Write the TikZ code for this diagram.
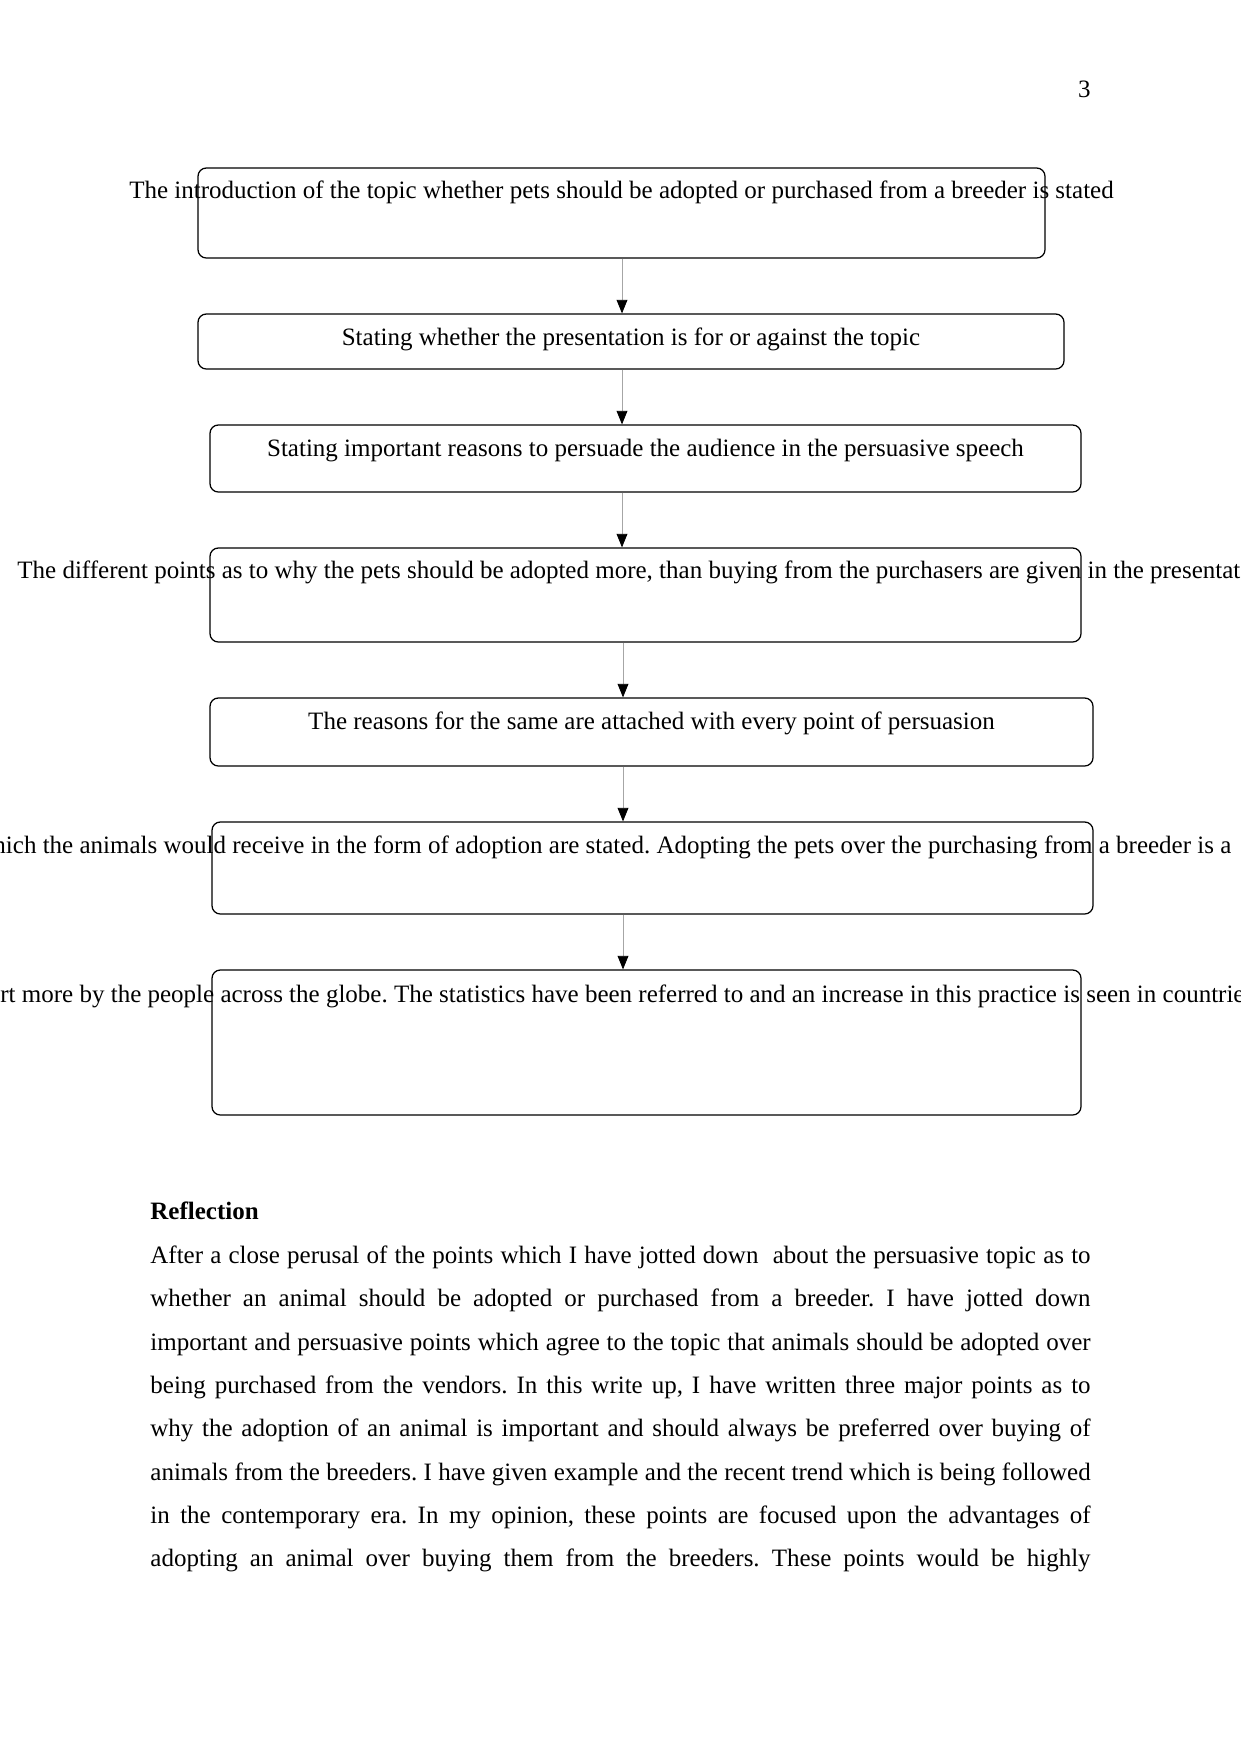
\documentclass[tikz,border=0pt]{standalone}
\usepackage{fontspec}
\setmainfont{Liberation Serif}
\frenchspacing
\usetikzlibrary{arrows.meta,fit}
\tikzset{
  flowbox/.style={draw=black, line width=0.6pt, rounded corners=4pt, inner sep=0pt},
  txt/.style={inner sep=0pt, font=\fontsize{12pt}{14pt}\selectfont\frenchspacing},
  flowarrow/.style={draw=black!35, line width=0.4pt, -{Triangle[length=6.5pt,width=5.2pt,color=black]}},
}
\begin{document}
\begin{tikzpicture}[x=0.48pt,y=-0.48pt]
\useasboundingbox (0,0) rectangle (1241,1754);
\fill[white] (0,0) rectangle (1241,1754);
\clip (0,0) rectangle (1241,1754);

% page number
\node[txt, anchor=base east] (pnum) at (1091,97) {3};

% boxes
\node[flowbox, fit={(198,168) (1045,258)}] (b1) {};
\node[flowbox, fit={(198,314) (1064,369)}] (b2) {};
\node[flowbox, fit={(210,425) (1081,492)}] (b3) {};
\node[flowbox, fit={(210,548) (1081,642)}] (b4) {};
\node[flowbox, fit={(210,698) (1093,766)}] (b5) {};
\node[flowbox, fit={(212,822) (1093,914)}] (b6) {};
\node[flowbox, fit={(212,970) (1081,1115)}] (b7) {};

% box texts
\node[txt, anchor=base] (t1) at (621.5,198) {The introduction of the topic whether pets should be adopted or purchased from a breeder is stated};
\node[txt, anchor=base] (t2) at (631,345) {Stating whether the presentation is for or against the topic};
\node[txt, anchor=base] (t3) at (645.5,456) {Stating important reasons to persuade the audience in the persuasive speech};
\node[txt, anchor=base west] (t4) at (17,578) {The different points as to why the pets should be adopted more, than buying from the purchasers are given in the presentat};
\node[txt, anchor=base] (t5) at (651.5,729) {The reasons for the same are attached with every point of persuasion};
\node[txt, anchor=base west] (t6) at (-25,853) {which the animals would receive in the form of adoption are stated. Adopting the pets over the purchasing from a breeder is a};
\node[txt, anchor=base west] (t7) at (0,1002) {rt more by the people across the globe. The statistics have been referred to and an increase in this practice is seen in countrie};

% arrows
\coordinate (ax) at (622,0);
\coordinate (ay) at (623,0);
\draw[flowarrow] (b1.south -| ax) -- (b2.north -| ax);
\draw[flowarrow] (b2.south -| ax) -- (b3.north -| ax);
\draw[flowarrow] (b3.south -| ax) -- (b4.north -| ax);
\draw[flowarrow] (b4.south -| ay) -- (b5.north -| ay);
\draw[flowarrow] (b5.south -| ay) -- (b6.north -| ay);
\draw[flowarrow] (b6.south -| ay) -- (b7.north -| ay);

% reflection
\node[txt, anchor=base west, font=\fontsize{12pt}{14pt}\selectfont\bfseries] (rh) at (150,1219) {Reflection};
\node[txt, anchor=base west] (l1) at (150,1263) {\hbox to 451.3pt{After a close perusal of the points which I have jotted down\ \ about the persuasive topic as to}};
\node[txt, anchor=base west] (l2) at (150,1306.5) {\hbox to 451.3pt{whether an animal should be adopted or purchased from a breeder. I have jotted down}};
\node[txt, anchor=base west] (l3) at (150,1350) {\hbox to 451.3pt{important and persuasive points which agree to the topic that animals should be adopted over}};
\node[txt, anchor=base west] (l4) at (150,1393) {\hbox to 451.3pt{being purchased from the vendors. In this write up, I have written three major points as to}};
\node[txt, anchor=base west] (l5) at (150,1436.5) {\hbox to 451.3pt{why the adoption of an animal is important and should always be preferred over buying of}};
\node[txt, anchor=base west] (l6) at (150,1480) {\hbox to 451.3pt{animals from the breeders. I have given example and the recent trend which is being followed}};
\node[txt, anchor=base west] (l7) at (150,1523) {\hbox to 451.3pt{in the contemporary era. In my opinion, these points are focused upon the advantages of}};
\node[txt, anchor=base west] (l8) at (150,1566.5) {\hbox to 451.3pt{adopting an animal over buying them from the breeders. These points would be highly}};
\end{tikzpicture}
\end{document}
